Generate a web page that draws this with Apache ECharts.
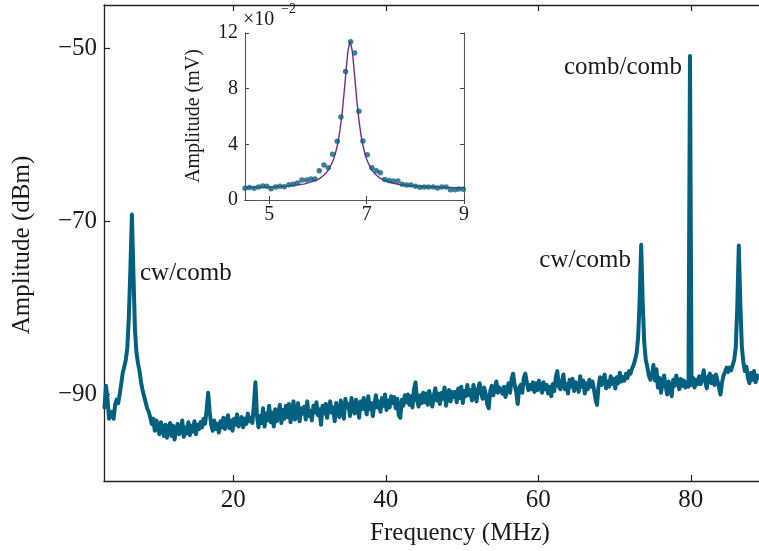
<!DOCTYPE html>
<html><head><meta charset="utf-8">
<script src="https://cdn.jsdelivr.net/npm/echarts@6/dist/echarts.min.js"></script>
<style>html,body{margin:0;padding:0;background:#fff}#c{width:759px;height:551px}</style>
</head><body><div id="c"></div>
<script>
// Main spectrum: uniform sampling grid (MHz)
const freqStart = 3.1;
const freqStep = 0.2;
const amplitudeDbm = [
-91.5,-89.0,-90.5,-92.8,-93.0,-92.0,-92.8,-91.2,-90.6,-91.0,
-90.0,-88.8,-87.5,-86.8,-86.0,-84.6,-81.0,-75.5,-69.2,-76.0,
-82.5,-85.2,-86.4,-87.3,-88.6,-89.5,-90.2,-90.4,-91.6,-92.0,
-92.6,-93.4,-92.8,-94.2,-93.0,-93.6,-94.6,-93.2,-93.9,-94.8,
-93.5,-95.0,-94.0,-93.3,-94.8,-93.6,-95.2,-94.1,-93.4,-94.6,
-94.2,-93.0,-94.9,-93.8,-94.5,-93.2,-94.7,-93.6,-94.3,-93.1,
-94.6,-93.5,-94.0,-93.2,-93.8,-92.8,-93.4,-91.8,-89.8,-92.0,
-93.5,-94.2,-93.0,-94.0,-93.4,-94.4,-93.1,-93.8,-92.7,-94.0,
-93.2,-92.4,-93.9,-93.0,-94.2,-92.8,-93.5,-92.3,-93.7,-93.0,
-92.6,-93.8,-92.8,-93.4,-92.2,-93.1,-92.7,-93.3,-91.2,-88.6,
-92.4,-93.8,-92.5,-93.3,-91.6,-93.7,-92.2,-93.0,-91.3,-93.2,
-92.1,-93.7,-91.7,-93.1,-92.3,-91.2,-93.3,-91.8,-92.8,-91.3,
-92.6,-91.1,-93.2,-92.1,-90.8,-92.9,-92.3,-91.0,-93.1,-91.6,
-92.2,-91.4,-92.9,-90.8,-92.5,-91.9,-93.0,-91.3,-92.1,-90.9,
-92.4,-91.7,-93.5,-91.3,-92.2,-91.1,-92.7,-91.6,-90.8,-92.1,
-91.5,-93.1,-91.0,-92.0,-92.6,-90.7,-91.8,-92.8,-90.5,-91.5,
-91.1,-92.5,-90.4,-91.6,-92.2,-90.6,-91.4,-92.7,-90.8,-91.7,
-90.4,-91.4,-92.3,-90.2,-91.7,-91.0,-92.5,-91.2,-90.1,-91.5,
-90.8,-92.0,-90.4,-91.3,-90.0,-91.8,-90.7,-91.5,-90.2,-91.0,
-90.3,-91.6,-90.5,-92.4,-92.7,-90.6,-91.3,-90.1,-90.9,-90.0,
-91.2,-90.2,-91.5,-89.4,-88.6,-90.7,-91.4,-90.1,-91.0,-89.8,
-90.9,-89.9,-91.2,-89.6,-90.6,-91.4,-90.1,-89.3,-90.7,-89.9,
-91.1,-89.8,-90.5,-89.2,-91.3,-90.1,-89.5,-90.8,-89.7,-90.3,
-89.7,-90.9,-89.3,-90.4,-89.1,-91.0,-89.6,-90.2,-88.9,-90.1,
-89.5,-90.7,-88.9,-90.0,-90.8,-89.4,-88.7,-89.8,-90.5,-89.2,
-89.9,-91.1,-91.6,-89.6,-89.0,-90.1,-89.3,-88.5,-89.8,-89.2,
-89.0,-89.9,-89.1,-90.3,-89.5,-88.7,-89.8,-88.2,-87.6,-88.9,
-89.7,-91.1,-89.2,-88.9,-89.8,-88.1,-87.6,-88.6,-89.5,-88.9,
-89.4,-88.6,-89.7,-88.7,-89.5,-88.4,-89.2,-89.8,-88.6,-89.4,
-88.9,-89.9,-89.1,-90.2,-88.8,-89.6,-88.0,-87.3,-89.1,-89.4,
-88.5,-87.7,-89.4,-88.8,-89.9,-88.3,-89.1,-88.2,-89.6,-88.6,
-88.9,-89.7,-87.9,-89.1,-88.4,-89.9,-88.7,-89.4,-88.3,-89.1,
-88.5,-89.4,-90.5,-91.2,-89.1,-88.0,-88.9,-88.3,-87.7,-89.3,
-88.5,-89.1,-87.9,-88.8,-88.2,-89.3,-88.0,-88.7,-87.5,-88.5,
-88.0,-88.4,-87.6,-88.1,-87.3,-87.6,-87.0,-86.6,-86.0,-85.2,
-83.4,-79.0,-72.7,-79.5,-84.0,-86.0,-86.8,-87.8,-88.3,-87.9,
-86.6,-88.4,-87.1,-89.2,-88.1,-89.8,-88.6,-87.8,-89.0,-90.0,
-88.5,-89.3,-90.2,-88.3,-89.0,-87.8,-88.6,-89.4,-88.2,-89.0,
-88.4,-89.2,-88.6,-89.1,-50.9,-88.9,-88.1,-89.2,-88.3,-88.8,
-87.9,-88.8,-88.2,-87.2,-88.5,-89.3,-88.0,-87.6,-88.7,-87.9,
-88.9,-87.7,-88.4,-89.2,-90.0,-88.6,-87.8,-87.4,-86.9,-87.4,
-86.9,-87.2,-86.6,-86.0,-84.6,-80.0,-72.8,-79.5,-84.5,-86.3,
-87.3,-86.8,-88.1,-88.7,-87.5,-88.3,-87.3,-88.6,-87.8,-88.1
];
const mainXTicks = [20, 40, 60, 80];
const mainYTicks = [-90, -70, -50];

// Inset: measured points (x1e-2 mV)
const insetFreq = [4.500,4.589,4.685,4.774,4.863,4.945,5.034,5.130,5.219,5.308,5.403,5.492,5.581,5.670,5.766,5.855,5.937,6.026,6.122,6.211,6.300,6.396,6.471,6.567,6.670,6.752,6.841,6.923,7.012,7.108,7.197,7.279,7.368,7.457,7.546,7.642,7.731,7.820,7.909,8.004,8.093,8.182,8.271,8.367,8.456,8.545,8.634,8.723,8.817,8.894,8.983];
const insetAmp = [0.84,0.89,0.84,0.93,1.01,0.98,0.81,0.93,0.98,0.96,1.10,1.13,1.22,1.44,1.44,1.51,1.51,2.11,2.51,2.32,3.28,4.22,5.96,9.24,11.38,10.56,6.37,4.24,3.26,2.32,2.11,1.96,1.48,1.41,1.37,1.37,1.13,1.08,1.08,0.98,0.91,0.93,0.93,0.93,0.86,0.93,0.93,0.74,0.74,0.79,0.77];
// Inset: fitted curve
const fitFreq = [4.5,4.75,5.0,5.25,5.5,5.75,6.0,6.1,6.2,6.3,6.35,6.4,6.45,6.5,6.55,6.58,6.6,6.62,6.66,6.7,6.72,6.74,6.76,6.8,6.85,6.9,6.95,7.0,7.1,7.2,7.3,7.5,7.75,8.0,8.25,8.5,8.75,9.0];
const fitAmp = [0.90,0.91,0.94,0.98,1.05,1.18,1.48,1.72,2.09,2.75,3.26,3.97,4.99,6.40,8.23,9.43,10.16,10.78,11.33,10.78,10.16,9.43,8.63,7.09,5.50,4.34,3.52,2.93,2.19,1.78,1.52,1.24,1.08,1.00,0.95,0.92,0.90,0.885];
const insetXTicks = [5, 7, 9];

const FONT = 'Liberation Serif';
const INK = '#1a1a1a';
const mainData = amplitudeDbm.map((v, i) => [+(freqStart + freqStep * i).toFixed(2), v]);
const insetData = insetFreq.map((f, i) => [f, insetAmp[i]]);
const fitData = fitFreq.map((f, i) => [f, fitAmp[i]]);
const minus = v => String(v).replace('-', '\u2212');

const chart = echarts.init(document.getElementById('c'), null, {renderer: 'canvas'});
const spine = {show: true, lineStyle: {color: '#222', width: 1.3}};
const inSpine = {show: true, lineStyle: {color: '#555', width: 1.1}};
chart.setOption({
  animation: false,
  backgroundColor: '#fff',
  grid: [
    {left: 104, top: 5, right: -1, bottom: 70},
    {left: 245, top: 33, width: 219, height: 167, backgroundColor: '#fff', show: true, borderWidth: 0}
  ],
  xAxis: [
    {gridIndex: 0, type: 'value', min: 3.04, max: 88.95, position: 'bottom',
     axisLine: spine, splitLine: {show: false},
     axisTick: {inside: true, length: 6, customValues: mainXTicks, lineStyle: {color: '#222', width: 1.2}},
     axisLabel: {customValues: mainXTicks, fontFamily: FONT, fontSize: 25, color: INK, margin: 7}},
    {gridIndex: 0, type: 'value', min: 3.04, max: 88.95, position: 'top',
     axisLine: spine, splitLine: {show: false},
     axisTick: {inside: true, length: 6, customValues: mainXTicks, lineStyle: {color: '#222', width: 1.2}},
     axisLabel: {show: false}},
    {gridIndex: 1, type: 'value', min: 4.5, max: 9, position: 'bottom',
     axisLine: inSpine, splitLine: {show: false},
     axisTick: {inside: true, length: 4, customValues: insetXTicks, lineStyle: {color: '#444'}},
     axisLabel: {customValues: insetXTicks, fontFamily: FONT, fontSize: 20, color: INK, margin: 5}},
    {gridIndex: 1, type: 'value', min: 4.5, max: 9, position: 'top',
     axisLine: inSpine, splitLine: {show: false},
     axisTick: {inside: true, length: 4, customValues: insetXTicks, lineStyle: {color: '#444'}},
     axisLabel: {show: false}}
  ],
  yAxis: [
    {gridIndex: 0, type: 'value', min: -100, max: -45, position: 'left',
     axisLine: spine, splitLine: {show: false},
     axisTick: {inside: true, length: 6, customValues: mainYTicks, lineStyle: {color: '#222', width: 1.2}},
     axisLabel: {customValues: mainYTicks, formatter: minus, fontFamily: FONT, fontSize: 25, color: INK, margin: 7}},
    {gridIndex: 1, type: 'value', min: 0, max: 12, interval: 4, position: 'left',
     axisLine: inSpine, splitLine: {show: false},
     axisTick: {inside: true, length: 4, lineStyle: {color: '#444'}},
     axisLabel: {fontFamily: FONT, fontSize: 20, color: INK, margin: 7}},
    {gridIndex: 1, type: 'value', min: 0, max: 12, interval: 4, position: 'right',
     axisLine: inSpine, splitLine: {show: false},
     axisTick: {inside: true, length: 4, lineStyle: {color: '#444'}},
     axisLabel: {show: false}}
  ],
  series: [
    {type: 'line', xAxisIndex: 0, yAxisIndex: 0, data: mainData, showSymbol: false,
     lineStyle: {color: '#03607f', width: 4, join: 'round', cap: 'round'}, clip: true, z: 2},
    {type: 'line', xAxisIndex: 2, yAxisIndex: 1, data: fitData, showSymbol: false, smooth: 0.2,
     lineStyle: {color: '#7d2a7e', width: 1.4}, z: 4},
    {type: 'scatter', xAxisIndex: 2, yAxisIndex: 1, data: insetData, symbolSize: 5.5,
     itemStyle: {color: '#0d5f80'}, z: 5}
  ],
  graphic: [
    {type: 'text', x: 22, y: 245, rotation: Math.PI / 2,
     style: {text: 'Amplitude (dBm)', font: '25px "Liberation Serif"', fill: INK, textAlign: 'center', textVerticalAlign: 'middle'}},
    {type: 'text', x: 460, y: 533,
     style: {text: 'Frequency (MHz)', font: '25px "Liberation Serif"', fill: INK, textAlign: 'center', textVerticalAlign: 'middle'}},
    {type: 'text', x: 140, y: 273,
     style: {text: 'cw/comb', font: '25px "Liberation Serif"', fill: INK, textAlign: 'left', textVerticalAlign: 'middle'}},
    {type: 'text', x: 631, y: 260,
     style: {text: 'cw/comb', font: '25px "Liberation Serif"', fill: INK, textAlign: 'right', textVerticalAlign: 'middle'}},
    {type: 'text', x: 682, y: 67,
     style: {text: 'comb/comb', font: '25px "Liberation Serif"', fill: INK, textAlign: 'right', textVerticalAlign: 'middle'}},
    {type: 'text', x: 194, y: 116, rotation: Math.PI / 2, z: 10,
     style: {text: 'Amplitude (mV)', font: '20px "Liberation Serif"', fill: INK, textAlign: 'center', textVerticalAlign: 'middle'}},
    {type: 'text', x: 243, y: 20, z: 10,
     style: {text: '\u00d710', font: '20px "Liberation Serif"', fill: INK, textAlign: 'left', textVerticalAlign: 'middle'}},
    {type: 'text', x: 281, y: 9, z: 10,
     style: {text: '\u22122', font: '14px "Liberation Serif"', fill: INK, textAlign: 'left', textVerticalAlign: 'middle'}}
  ]
});
</script></body></html>
